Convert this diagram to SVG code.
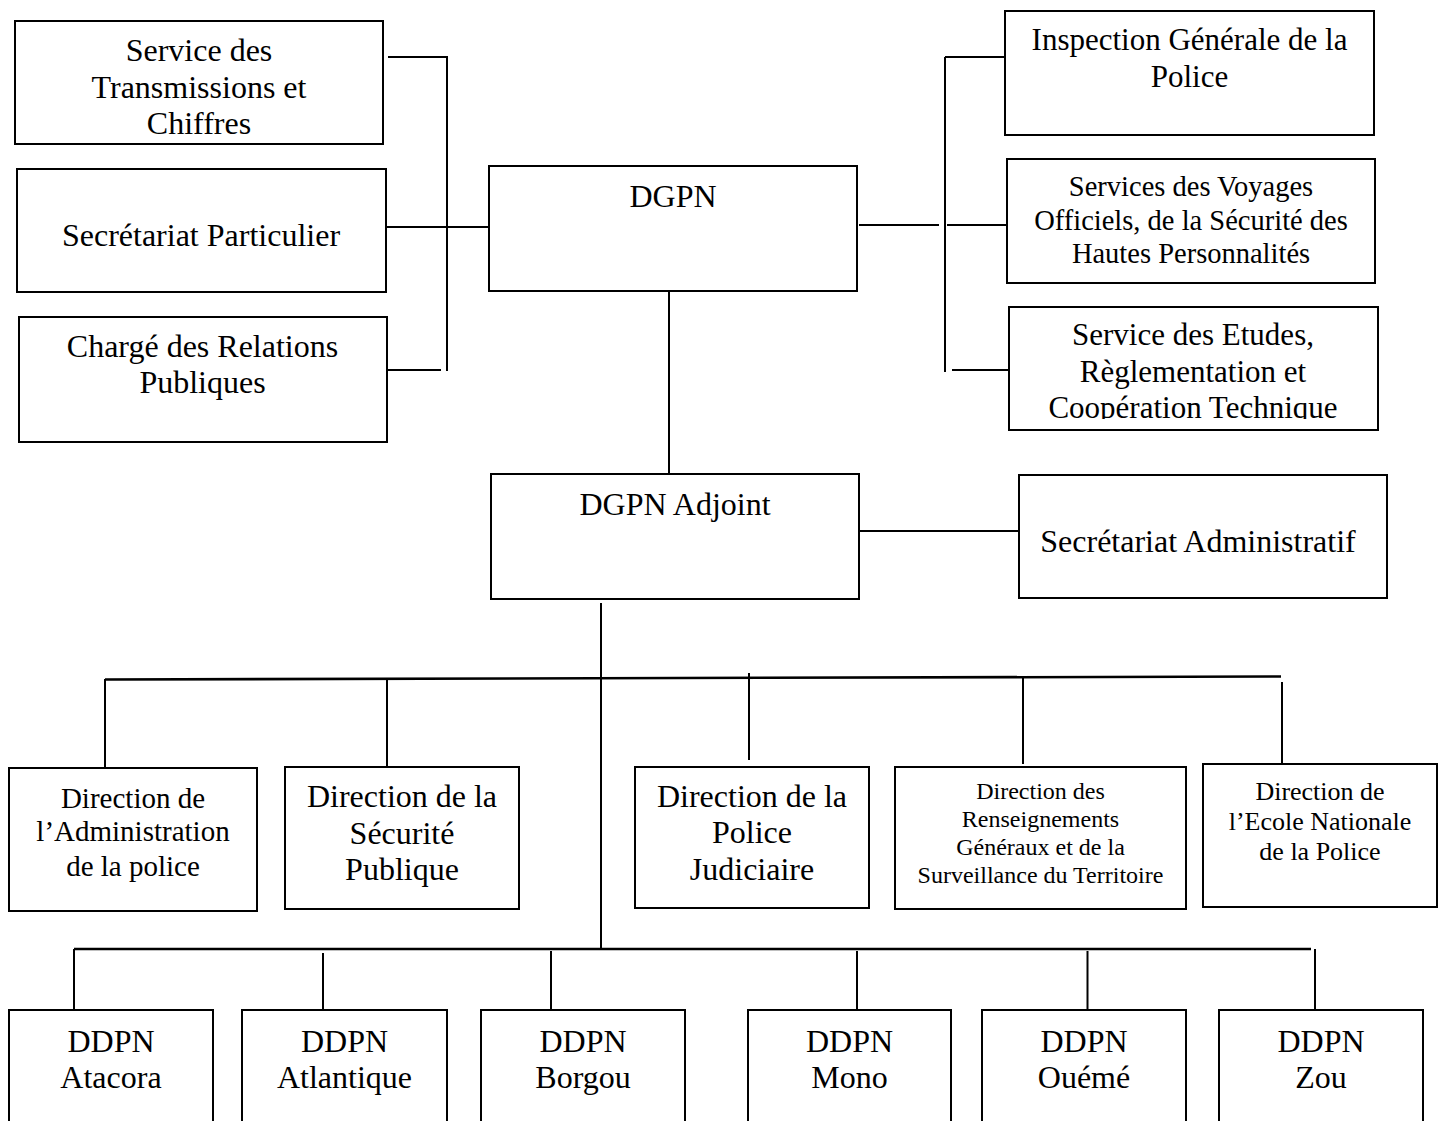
<svg xmlns="http://www.w3.org/2000/svg" width="1445" height="1121" viewBox="0 0 1445 1121">
<style>
.box{fill:#fff;stroke:#000;stroke-width:2}
.ln{stroke:#000;stroke-width:2;fill:none}
.bus{stroke:#000;stroke-width:2.6;fill:none}
text{font-family:"Liberation Serif","Times New Roman",serif;fill:#000;text-anchor:middle}
.f32{font-size:32px}
.f31{font-size:31px}
.f29{font-size:29px}
.f28{font-size:28.5px}
.f26{font-size:26px}
.f24{font-size:24px}
</style>
<defs>
<clipPath id="clipEtudes"><rect x="1009" y="307" width="370" height="112"/></clipPath>
</defs>
<rect x="0" y="0" width="1445" height="1121" fill="#fff"/>

<g id="connectors">
<line class="ln" x1="388" y1="57" x2="447" y2="57"/>
<line class="ln" x1="447" y1="56" x2="447" y2="371"/>
<line class="ln" x1="382" y1="227" x2="489" y2="227"/>
<line class="ln" x1="382" y1="370" x2="441" y2="370"/>
<line class="ln" x1="859" y1="225" x2="939" y2="225"/>
<line class="ln" x1="945" y1="57" x2="945" y2="372"/>
<line class="ln" x1="945" y1="57" x2="1005" y2="57"/>
<line class="ln" x1="947" y1="225" x2="1007" y2="225"/>
<line class="ln" x1="952" y1="370" x2="1011" y2="370"/>
<line class="ln" x1="669" y1="289" x2="669" y2="478"/>
<line class="ln" x1="857" y1="531" x2="1019" y2="531"/>
<line class="ln" x1="601" y1="603" x2="601" y2="949"/>
<line class="bus" x1="105" y1="679.5" x2="1281" y2="676.5"/>
<line class="ln" x1="105" y1="679" x2="105" y2="768"/>
<line class="ln" x1="387" y1="679" x2="387" y2="767"/>
<line class="ln" x1="749" y1="673" x2="749" y2="760"/>
<line class="ln" x1="1023" y1="678" x2="1023" y2="764"/>
<line class="ln" x1="1282" y1="682" x2="1282" y2="768"/>
<line class="bus" x1="74" y1="949" x2="1311" y2="949"/>
<line class="ln" x1="74" y1="949" x2="74" y2="1009"/>
<line class="ln" x1="323" y1="953" x2="323" y2="1012"/>
<line class="ln" x1="551" y1="951" x2="551" y2="1010"/>
<line class="ln" x1="857" y1="951" x2="857" y2="1010"/>
<line class="ln" x1="1087.5" y1="951" x2="1087.5" y2="1010"/>
<line class="ln" x1="1315" y1="949" x2="1315" y2="1009"/>
</g>

<g id="node-transmissions">
<rect class="box" x="15" y="21" width="368" height="123"/>
<text class="f32" x="199" y="61">Service des</text>
<text class="f32" x="199" y="98">Transmissions et</text>
<text class="f32" x="199" y="134">Chiffres</text>
</g>

<g id="node-secretariat-particulier">
<rect class="box" x="17" y="169" width="369" height="123"/>
<text class="f32" x="201" y="246">Secrétariat Particulier</text>
</g>

<g id="node-relations-publiques">
<rect class="box" x="19" y="317" width="368" height="125"/>
<text class="f32" x="202.5" y="357">Chargé des Relations</text>
<text class="f32" x="202.5" y="393">Publiques</text>
</g>

<g id="node-dgpn">
<rect class="box" x="489" y="166" width="368" height="125"/>
<text class="f32" x="673" y="207">DGPN</text>
</g>

<g id="node-igp">
<rect class="box" x="1005" y="11" width="369" height="124"/>
<text class="f31" x="1189.5" y="50">Inspection Générale de la</text>
<text class="f31" x="1189.5" y="87">Police</text>
</g>

<g id="node-voyages">
<rect class="box" x="1007" y="159" width="368" height="124"/>
<text class="f28" x="1191" y="196">Services des Voyages</text>
<text class="f28" x="1191" y="230">Officiels, de la Sécurité des</text>
<text class="f28" x="1191" y="263">Hautes Personnalités</text>
</g>

<g id="node-etudes">
<rect class="box" x="1009" y="307" width="369" height="123"/>
<g clip-path="url(#clipEtudes)">
<text class="f31" x="1193" y="345">Service des Etudes,</text>
<text class="f31" x="1193" y="382">Règlementation et</text>
<text class="f31" x="1193" y="418">Coopération Technique</text>
</g>
</g>

<g id="node-dgpn-adjoint">
<rect class="box" x="491" y="474" width="368" height="125"/>
<text class="f32" x="675" y="515">DGPN Adjoint</text>
</g>

<g id="node-secretariat-administratif">
<rect class="box" x="1019" y="475" width="368" height="123"/>
<text class="f32" x="1198" y="552">Secrétariat Administratif</text>
</g>

<g id="node-administration">
<rect class="box" x="9" y="768" width="248" height="143"/>
<text class="f29" x="133" y="808">Direction de</text>
<text class="f29" x="133" y="841">l’Administration</text>
<text class="f29" x="133" y="876">de la police</text>
</g>

<g id="node-securite-publique">
<rect class="box" x="285" y="767" width="234" height="142"/>
<text class="f32" x="402" y="807">Direction de la</text>
<text class="f32" x="402" y="844">Sécurité</text>
<text class="f32" x="402" y="880">Publique</text>
</g>

<g id="node-police-judiciaire">
<rect class="box" x="635" y="767" width="234" height="141"/>
<text class="f32" x="752" y="807">Direction de la</text>
<text class="f32" x="752" y="843">Police</text>
<text class="f32" x="752" y="880">Judiciaire</text>
</g>

<g id="node-renseignements">
<rect class="box" x="895" y="767" width="291" height="142"/>
<text class="f24" x="1040.5" y="799">Direction des</text>
<text class="f24" x="1040.5" y="827">Renseignements</text>
<text class="f24" x="1040.5" y="855">Généraux et de la</text>
<text class="f24" x="1040.5" y="883">Surveillance du Territoire</text>
</g>

<g id="node-ecole-nationale">
<rect class="box" x="1203" y="764" width="234" height="143"/>
<text class="f26" x="1320" y="800">Direction de</text>
<text class="f26" x="1320" y="830">l’Ecole Nationale</text>
<text class="f26" x="1320" y="860">de la Police</text>
</g>

<g id="node-ddpn-atacora">
<rect class="box" x="9" y="1010" width="204" height="130"/>
<text class="f32" x="111" y="1052">DDPN</text>
<text class="f32" x="111" y="1088">Atacora</text>
</g>

<g id="node-ddpn-atlantique">
<rect class="box" x="242" y="1010" width="205" height="130"/>
<text class="f32" x="344.5" y="1052">DDPN</text>
<text class="f32" x="344.5" y="1088">Atlantique</text>
</g>

<g id="node-ddpn-borgou">
<rect class="box" x="481" y="1010" width="204" height="130"/>
<text class="f32" x="583" y="1052">DDPN</text>
<text class="f32" x="583" y="1088">Borgou</text>
</g>

<g id="node-ddpn-mono">
<rect class="box" x="748" y="1010" width="203" height="130"/>
<text class="f32" x="849.5" y="1052">DDPN</text>
<text class="f32" x="849.5" y="1088">Mono</text>
</g>

<g id="node-ddpn-oueme">
<rect class="box" x="982" y="1010" width="204" height="130"/>
<text class="f32" x="1084" y="1052">DDPN</text>
<text class="f32" x="1084" y="1088">Ouémé</text>
</g>

<g id="node-ddpn-zou">
<rect class="box" x="1219" y="1010" width="204" height="130"/>
<text class="f32" x="1321" y="1052">DDPN</text>
<text class="f32" x="1321" y="1088">Zou</text>
</g>
</svg>
